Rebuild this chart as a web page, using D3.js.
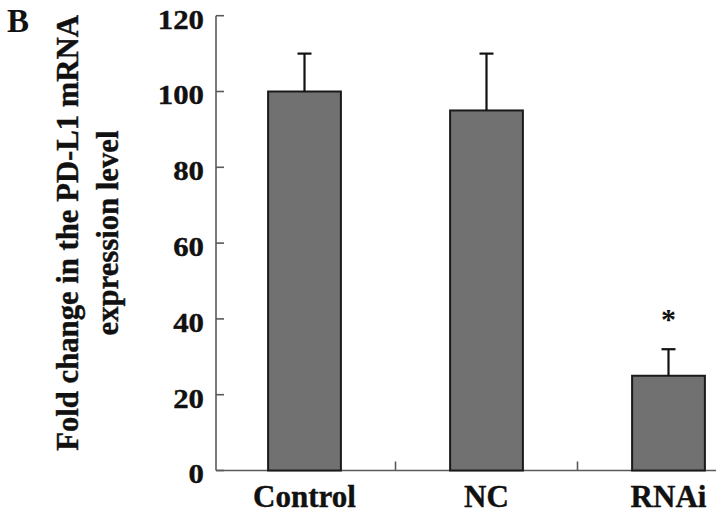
<!DOCTYPE html>
<html>
<head>
<meta charset="utf-8">
<script src="https://cdn.jsdelivr.net/npm/d3@7"></script>
<style>
  body { margin: 0; background: #fff; }
  svg { display: block; }
  text { font-family: "Liberation Serif", "Times New Roman", serif; font-weight: bold; fill: #111; }
</style>
</head>
<body>
<div id="chart"></div>
<script>
// chart data
const groups = ['Control', 'NC', 'RNAi'];
const means = [100, 95, 25];
const errors = [10, 15, 7];
const marks = ['', '', '*'];
const yTicks = [0, 20, 40, 60, 80, 100, 120];

const width = 724;
const height = 514;

const svg = d3.select('#chart')
  .append('svg')
  .attr('width', width)
  .attr('height', height);

const x = d3.scaleBand()
  .domain(groups)
  .range([213.5, 759.5])
  .paddingInner(0.6)
  .paddingOuter(0.3);

const y = d3.scaleLinear()
  .domain([0, 120])
  .range([470.5, 15.7]);

const axisX = 216;
const axisColor = '#5a5a5a';

// y axis line + inward ticks
svg.append('line')
  .attr('x1', axisX).attr('x2', axisX)
  .attr('y1', y(120)).attr('y2', y(0))
  .attr('stroke', axisColor).attr('stroke-width', 1.6);

svg.append('g')
  .selectAll('line')
  .data(yTicks)
  .join('line')
  .attr('x1', axisX).attr('x2', axisX + 8)
  .attr('y1', d => y(d)).attr('y2', d => y(d))
  .attr('stroke', axisColor).attr('stroke-width', 1.6);

// tick labels (slightly wide type like the original)
svg.append('g')
  .selectAll('text')
  .data(yTicks)
  .join('text')
  .attr('transform', d => `translate(204,${y(d) + 3}) scale(1.1,1)`)
  .attr('text-anchor', 'end')
  .attr('dy', '0.35em')
  .style('font-size', '28px')
  .style('stroke', '#111').style('stroke-width', 0.4)
  .text(d => d);

// x axis line, ticks between groups
svg.append('line')
  .attr('x1', axisX).attr('x2', 716)
  .attr('y1', y(0)).attr('y2', y(0))
  .attr('stroke', axisColor).attr('stroke-width', 1.6);

const step = x.step();
svg.append('g')
  .selectAll('line')
  .data(groups.slice(1))
  .join('line')
  .attr('x1', d => x(d) + x.bandwidth() / 2 - step / 2)
  .attr('x2', d => x(d) + x.bandwidth() / 2 - step / 2)
  .attr('y1', y(0)).attr('y2', y(0) - 9)
  .attr('stroke', axisColor).attr('stroke-width', 1.6);

// bars
svg.append('g')
  .selectAll('rect')
  .data(groups)
  .join('rect')
  .attr('x', d => x(d))
  .attr('y', (d, i) => y(means[i]))
  .attr('width', x.bandwidth())
  .attr('height', (d, i) => y(0) - y(means[i]))
  .attr('fill', '#717171')
  .attr('stroke', '#1a1a1a')
  .attr('stroke-width', 2);

// error bars (upper only)
const eb = svg.append('g')
  .attr('stroke', '#111')
  .attr('stroke-width', 2.2);

groups.forEach((g, i) => {
  const cx = x(g) + x.bandwidth() / 2;
  eb.append('line')
    .attr('x1', cx).attr('x2', cx)
    .attr('y1', y(means[i])).attr('y2', y(means[i] + errors[i]));
  eb.append('line')
    .attr('x1', cx - 7).attr('x2', cx + 7)
    .attr('y1', y(means[i] + errors[i])).attr('y2', y(means[i] + errors[i]));
});

// significance marks
svg.append('g')
  .selectAll('text')
  .data(groups)
  .join('text')
  .attr('x', d => x(d) + x.bandwidth() / 2)
  .attr('y', (d, i) => y(means[i] + errors[i]) - 20)
  .attr('text-anchor', 'middle')
  .style('font-size', '30px')
  .text((d, i) => marks[i]);

// category labels
svg.append('g')
  .selectAll('text')
  .data(groups)
  .join('text')
  .attr('x', d => x(d) + x.bandwidth() / 2)
  .attr('y', 507)
  .attr('text-anchor', 'middle')
  .style('font-size', '31px')
  .style('stroke', '#111').style('stroke-width', 0.4)
  .text(d => d);

// y axis title, two lines; sized so the first line runs ~440px like the original
const title = svg.append('text')
  .attr('transform', 'translate(0,233) rotate(-90)')
  .attr('text-anchor', 'middle')
  .style('font-size', '31px')
  .style('stroke', '#111').style('stroke-width', 0.4);
const line1 = title.append('tspan').attr('x', 0).attr('y', 78).text('Fold change in the PD-L1 mRNA');
title.append('tspan').attr('x', 0).attr('y', 118).text('expression level');
const len = line1.node().getComputedTextLength();
if (len > 0) title.style('font-size', (31 * 436 / len).toFixed(1) + 'px');

// panel letter
svg.append('text')
  .attr('x', 7)
  .attr('y', 32)
  .style('font-size', '33px')
  .text('B');
</script>
</body>
</html>
